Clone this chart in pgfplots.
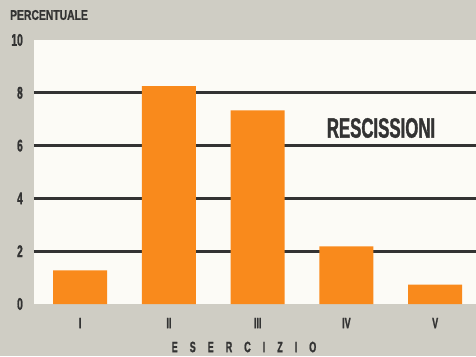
\documentclass[border=0pt]{standalone}
\usepackage{pgfplots}
\pgfplotsset{compat=1.18}
\usepackage{fontspec}
\setmainfont{Liberation Sans}
\newfontfamily\cond[FakeStretch=0.6, UprightFont=* Bold, FakeBold=1.2]{Liberation Sans}
\newfontfamily\condB[FakeStretch=0.74, UprightFont=* Bold, FakeBold=1]{Liberation Sans}
\definecolor{bg}{HTML}{CFCDC4}
\definecolor{plotbg}{HTML}{FCFBF6}
\definecolor{barc}{HTML}{F98A1C}
\definecolor{ink}{HTML}{333333}
\begin{document}
\begin{tikzpicture}
\fill[bg] (-34pt,-52pt) rectangle (442pt,304pt);
\begin{axis}[at={(0,0)}, anchor=south west, scale only axis,
  width=442pt, height=264pt,
  xmin=-0.52, xmax=4.46, ymin=0, ymax=10,
  axis line style={draw=none},
  axis background/.style={fill=plotbg},
  ytick={2,4,6,8}, extra y ticks={0,10}, extra y tick style={grid=none},
  ymajorgrids, major grid style={line width=2.6pt, color=ink},
  xtick={0,1,2,3,4}, xticklabels={I,II,III,IV,V},
  major tick length=0pt,
  /pgf/number format/assume math mode=true,
  yticklabel style={anchor=east, inner sep=0pt, xshift=-11pt, text=ink,
    font=\cond\fontsize{17}{17}\selectfont},
  xticklabel style={anchor=center, inner sep=0pt, yshift=-19pt, text=ink,
    font=\cond\fontsize{15}{15}\selectfont},
]
\addplot[ybar, bar width=0.61, fill=barc, draw=none]
  coordinates {(0,1.27) (1,8.25) (2,7.33) (3,2.18) (4,0.73)};
\end{axis}
\node[text=ink, font=\condB\fontsize{14}{14}\selectfont, inner sep=0pt] at (15pt,289pt) {PERCENTUALE};
\node[text=ink, font=\cond\fontsize{28}{28}\selectfont, inner sep=0pt] at (347pt,176pt) {RESCISSIONI};
\node[text=ink, font=\cond\fontsize{15}{15}\selectfont, inner sep=0pt] at (210pt,-43pt)
  {E\hspace{12pt}S\hspace{12pt}E\hspace{12pt}R\hspace{12pt}C\hspace{12pt}I\hspace{12pt}Z\hspace{12pt}I\hspace{12pt}O};
\pgfresetboundingbox
\path (-34pt,-52pt) rectangle (442pt,304pt);
\end{tikzpicture}
\end{document}
